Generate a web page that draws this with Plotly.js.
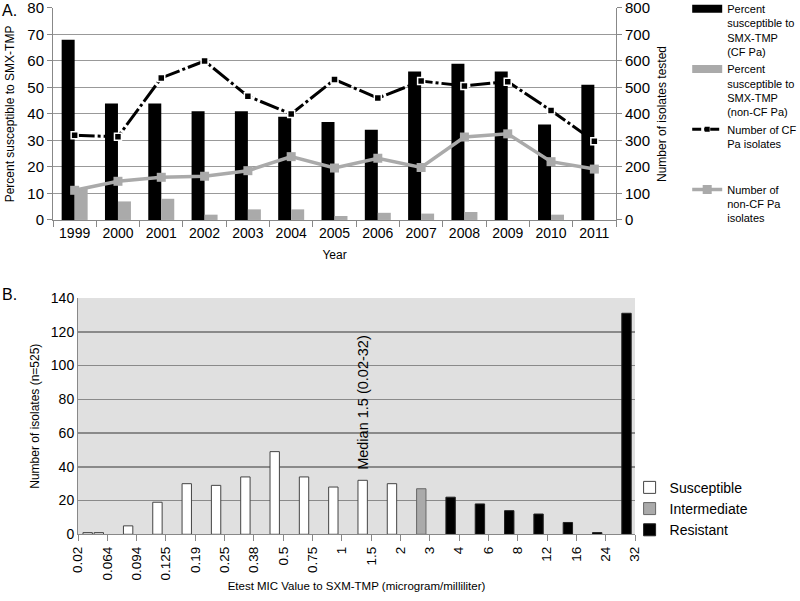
<!DOCTYPE html>
<html><head><meta charset="utf-8">
<script src="https://cdn.plot.ly/plotly-3.0.1.min.js"></script>
<style>html,body{margin:0;padding:0;background:#fff}</style>
</head><body><div id="chart" style="width:800px;height:601px"></div>
<script>
// ---- Panel A data ----
const years = ['1999','2000','2001','2002','2003','2004','2005','2006','2007','2008','2009','2010','2011'];
const pctCF = [68,44,44,41,41,39,37,34,56,59,56,36,51];
const pctNonCF = [12,7,8,2,4,4,1.5,2.7,2.4,3,0,2,0];
const nCF = [320,314,536,600,467,400,530,460,524,506,522,413,297];
const nNonCF = [112,146,161,165,186,239,196,233,198,313,325,220,192];

// ---- Panel B data ----
const micLabels = ['0.02','0.064','0.094','0.125','0.19','0.25','0.38','0.5','0.75','1','1.5','2','3','4','6','8','12','16','24','32'];
const susCats = ['0.02','0.064','0.094','0.125','0.19','0.25','0.38','0.5','0.75','1','1.5','2'];
const susVals = [1,1,5,19,30,29,34,49,34,28,32,30];
const intCats = ['3'];
const intVals = [27];
const resCats = ['4','6','8','12','16','24','32'];
const resVals = [22,18,14,12,7,1,131];
const medianLabel = '1.5';

const F = '"Liberation Sans", Arial, sans-serif';
const GRAY = '#aaaaaa';

const traces = [
  {type:'bar', x:years, y:pctCF, xaxis:'x', yaxis:'y', marker:{color:'#000'}, showlegend:false, name:'Percent susceptible to SMX-TMP (CF Pa)'},
  {type:'bar', x:years, y:pctNonCF, xaxis:'x', yaxis:'y', marker:{color:GRAY}, showlegend:false, name:'Percent susceptible to SMX-TMP (non-CF Pa)'},
  {type:'scatter', mode:'lines+markers', x:years, y:nCF, xaxis:'x', yaxis:'y2',
   line:{color:'#000', width:3, dash:'20px,3px,3px,3px'},
   marker:{symbol:'square', size:7, color:'#000', line:{color:'#fff', width:1.5}}, showlegend:false, name:'Number of CF Pa isolates'},
  {type:'scatter', mode:'lines+markers', x:years, y:nNonCF, xaxis:'x', yaxis:'y2',
   line:{color:GRAY, width:3.5}, marker:{symbol:'square', size:9, color:GRAY}, showlegend:false, name:'Number of non-CF Pa isolates'},
  // legend entries panel A
  {type:'scatter', mode:'lines', x:[null], y:[null], xaxis:'x', yaxis:'y', line:{color:'#000', width:8}, legend:'legend',
   name:'Percent<br>susceptible to<br>SMX-TMP<br>(CF Pa)'},
  {type:'scatter', mode:'lines', x:[null], y:[null], xaxis:'x', yaxis:'y', line:{color:GRAY, width:8}, legend:'legend',
   name:'Percent<br>susceptible to<br>SMX-TMP<br>(non-CF Pa)'},
  {type:'scatter', mode:'lines+markers', x:[null], y:[null], xaxis:'x', yaxis:'y', legend:'legend',
   line:{color:'#000', width:3, dash:'9px,3px,3px,3px'}, marker:{symbol:'square', size:5, color:'#000'},
   name:'Number of CF<br>Pa isolates<br> <br> '},
  {type:'scatter', mode:'lines+markers', x:[null], y:[null], xaxis:'x', yaxis:'y', legend:'legend',
   line:{color:GRAY, width:3.5}, marker:{symbol:'square', size:9, color:GRAY},
   name:'Number of<br>non-CF Pa<br>isolates'},
  // panel B
  {type:'bar', x:susCats, y:susVals, xaxis:'x2', yaxis:'y3', width:0.32,
   offset: susCats.map((c,i)=> i===0 ? 0.17 : -0.45),
   marker:{color:'#fff', line:{color:'#444', width:1}}, name:'Susceptible', legend:'legend2'},
  {type:'bar', x:intCats, y:intVals, xaxis:'x2', yaxis:'y3', width:0.32, offset:-0.45,
   marker:{color:GRAY, line:{color:'#666', width:1}}, name:'Intermediate', legend:'legend2'},
  {type:'bar', x:resCats, y:resVals, xaxis:'x2', yaxis:'y3', width:0.32, offset:-0.45,
   marker:{color:'#000', line:{color:'#222', width:1}}, name:'Resistant', legend:'legend2'}
];

const layout = {
  width:800, height:601, margin:{l:0,r:0,t:0,b:0, autoexpand:false},
  paper_bgcolor:'#fff', plot_bgcolor:'rgba(0,0,0,0)',
  font:{family:F, color:'#000'},
  barmode:'group', bargap:0.4, bargroupgap:0,
  xaxis:{domain:[0.06625,0.77], anchor:'y', type:'category', range:[-0.5,12.5], autorange:false,
    tickson:'boundaries', ticks:'outside', ticklen:6, tickcolor:'#888', showline:true, linecolor:'#888',
    showgrid:false, tickfont:{size:14}, title:{text:'Year', font:{size:12}, standoff:10}},
  yaxis:{domain:[0.634,0.9867], anchor:'x', range:[0,80], autorange:false, dtick:10, gridcolor:'#999',
    showline:true, linecolor:'#888', ticks:'outside', ticklen:5, tickcolor:'#888', zeroline:false,
    ticklabeloverflow:'allow', tickfont:{size:15}, title:{text:'Percent susceptible to SMX-TMP', font:{size:12}, standoff:10}},
  yaxis2:{overlaying:'y', side:'right', anchor:'x', range:[0,800], autorange:false, dtick:100, showgrid:false,
    showline:true, linecolor:'#888', ticks:'outside', ticklen:5, tickcolor:'#888', zeroline:false,
    ticklabeloverflow:'allow', tickfont:{size:15}, title:{text:'Number of isolates tested', font:{size:12}, standoff:8}},
  xaxis2:{domain:[0.0975,0.79375], anchor:'y3', type:'category', categoryorder:'array', categoryarray:micLabels,
    range:[0,19], autorange:false, ticks:'outside', ticklen:6, tickcolor:'#888', showline:true, linecolor:'#888',
    showgrid:false, tickangle:-90, tickfont:{size:13.5}, ticklabeloverflow:'allow',
    title:{text:'Etest MIC Value to SXM-TMP (microgram/milliliter)', font:{size:11.5}, standoff:2}},
  yaxis3:{domain:[0.111,0.504], anchor:'x2', range:[0,140], autorange:false, dtick:20, gridcolor:'#8a8a8a', gridwidth:1.5,
    showline:true, linecolor:'#888', ticks:'', zeroline:false, tickfont:{size:14}, ticklabeloverflow:'allow',
    title:{text:'Number of isolates (n=525)', font:{size:12}, standoff:8}},
  shapes:[{type:'rect', xref:'x2 domain', yref:'y3 domain', x0:0, x1:1, y0:0, y1:1, layer:'below',
    fillcolor:'#e0e0e0', line:{width:0}}],
  legend:{x:0.859, xanchor:'left', y:1.008, yanchor:'top', font:{size:11}, bgcolor:'rgba(0,0,0,0)', valign:'top', tracegroupgap:0},
  legend2:{x:0.787, xanchor:'left', y:0.215, yanchor:'top', font:{size:14}, bgcolor:'rgba(0,0,0,0)'},
  annotations:[
    {text:'A.', xref:'paper', yref:'paper', x:0, y:1.0, xanchor:'left', yanchor:'top', showarrow:false, font:{size:16}},
    {text:'B.', xref:'paper', yref:'paper', x:0, y:1-294/601, xanchor:'left', yanchor:'middle', showarrow:false, font:{size:16}},
    {text:'Median 1.5 (0.02-32)', xref:'x2', yref:'y3', x:micLabels.indexOf(medianLabel), y:78, xshift:-8, textangle:-90, showarrow:false, font:{size:14.5}}
  ]
};

Plotly.newPlot('chart', traces, layout, {displayModeBar:false, staticPlot:true});
</script></body></html>
